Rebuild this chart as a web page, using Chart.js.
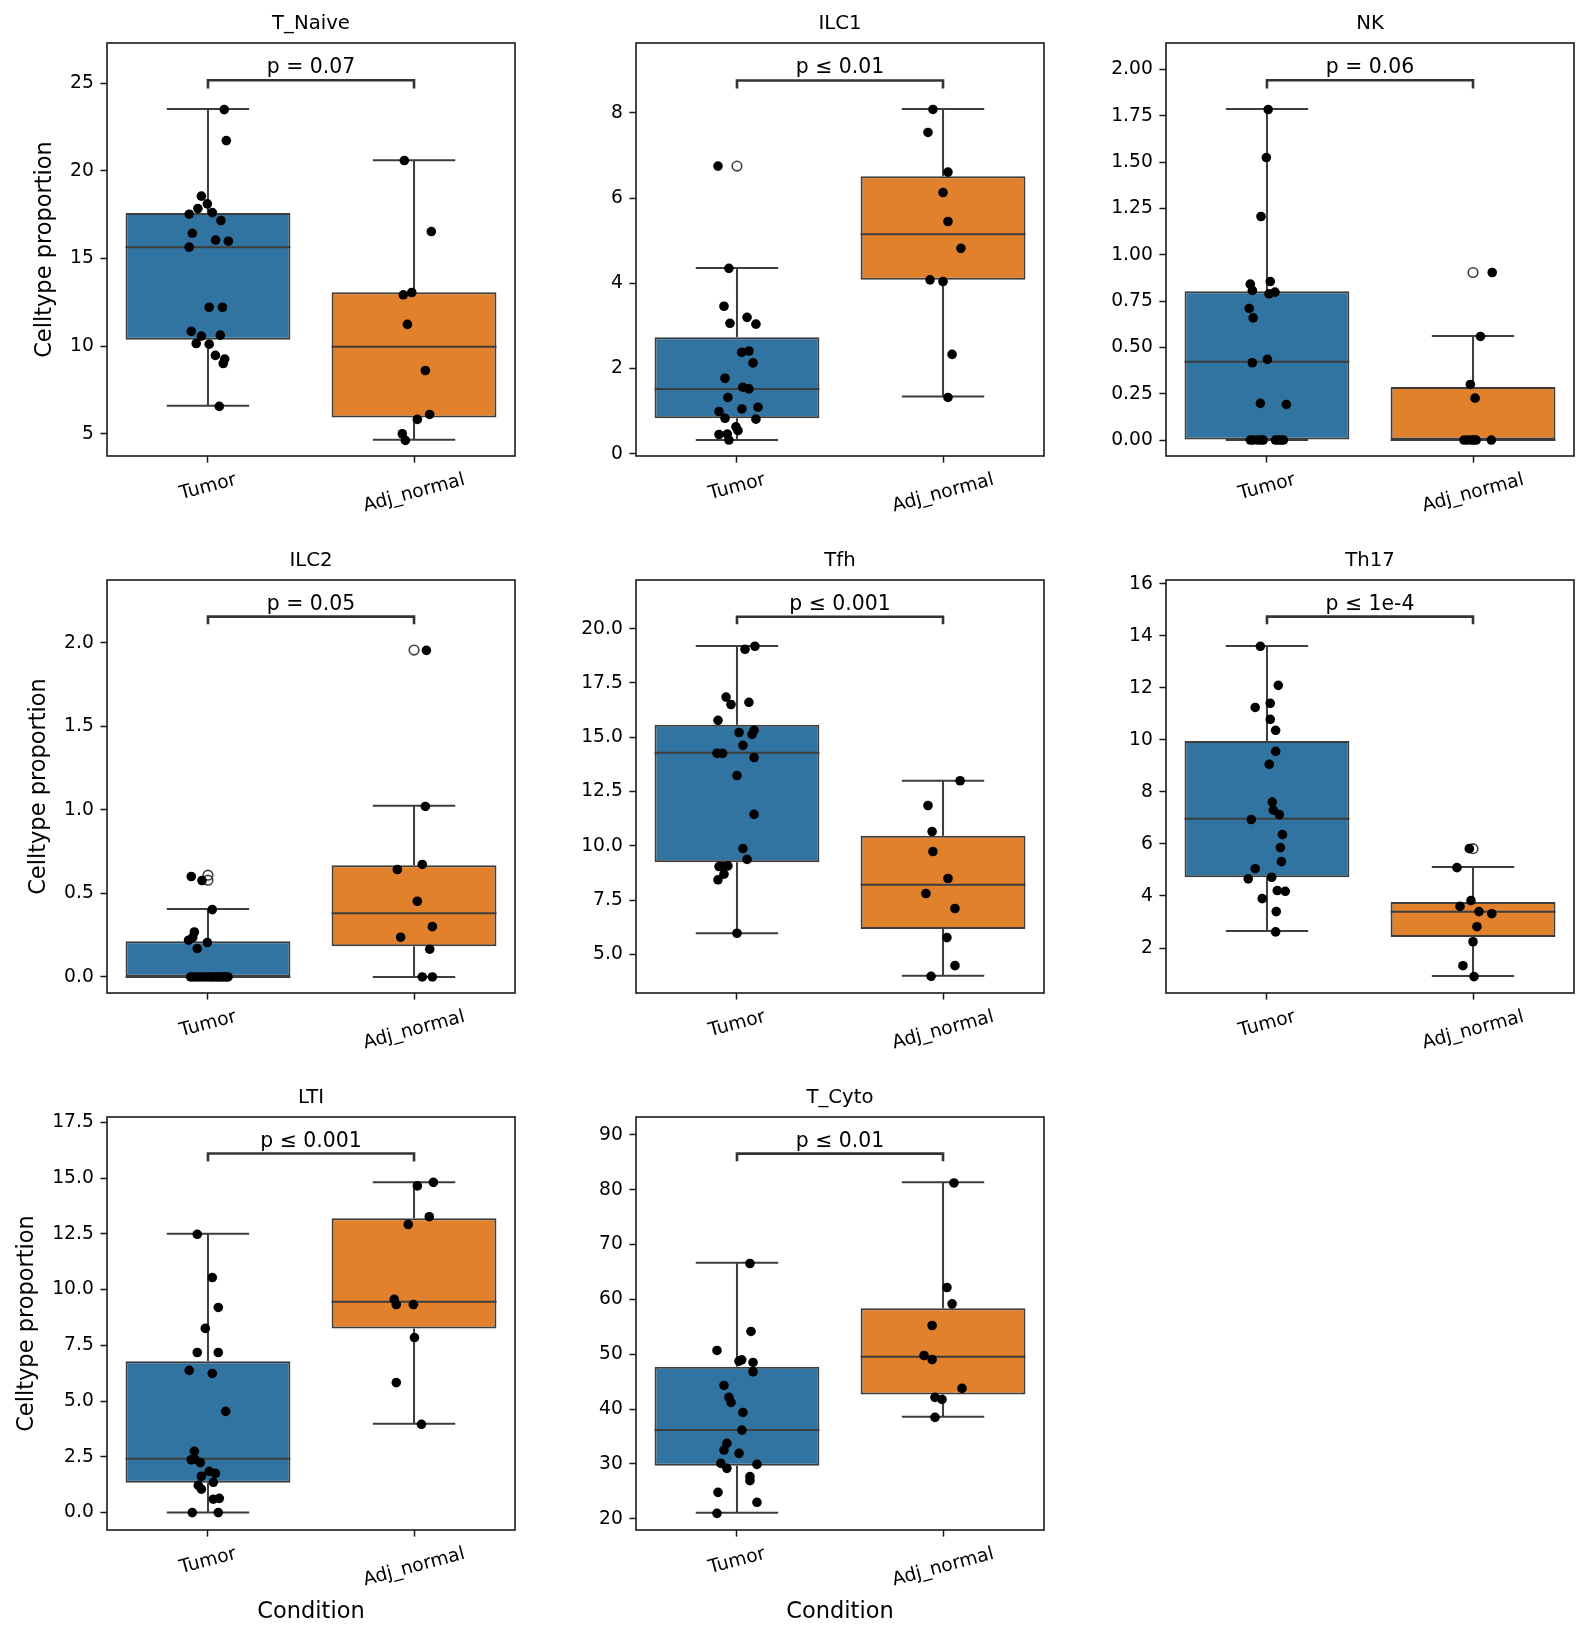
<!DOCTYPE html>
<html>
<head>
<meta charset="utf-8">
<script src="https://cdn.jsdelivr.net/npm/chart.js@4.4.1/dist/chart.umd.min.js"></script>
<style>
  html, body { margin: 0; padding: 0; background: #fff; }
  #page { position: relative; width: 1588px; height: 1641px; overflow: hidden; background: #fff; }
  #page canvas { position: absolute; }
</style>
</head>
<body>
<div id="page"></div>
<script>
// --- DATA ---
const conditions = ['Tumor', 'Adj_normal'];
const panelNames = ['T_Naive', 'ILC1', 'NK', 'ILC2', 'Tfh', 'Th17', 'LTI', 'T_Cyto'];
const pValueLabels = ['p = 0.07', 'p \u2264 0.01', 'p = 0.06', 'p = 0.05', 'p \u2264 0.001', 'p \u2264 1e-4', 'p \u2264 0.001', 'p \u2264 0.01'];

const yMin = [3.73, -0.055, -0.086, -0.096, 3.23, 0.27, -0.78, 17.93];
const yMax = [27.30, 9.64, 2.142, 2.375, 22.24, 16.15, 17.74, 93.28];
const yTickLabels = [
    ['5', '10', '15', '20', '25'],
    ['0', '2', '4', '6', '8'],
    ['0.00', '0.25', '0.50', '0.75', '1.00', '1.25', '1.50', '1.75', '2.00'],
    ['0.0', '0.5', '1.0', '1.5', '2.0'],
    ['5.0', '7.5', '10.0', '12.5', '15.0', '17.5', '20.0'],
    ['2', '4', '6', '8', '10', '12', '14', '16'],
    ['0.0', '2.5', '5.0', '7.5', '10.0', '12.5', '15.0', '17.5'],
    ['20', '30', '40', '50', '60', '70', '80', '90']
];

// box stats: [lower whisker, q1, median, q3, upper whisker]
const tumorBox = [
    [6.60, 10.36, 15.65, 17.60, 23.54],
    [0.32, 0.83, 1.52, 2.73, 4.36],
    [0, 0, 0.422, 0.803, 1.786],
    [0, 0, 0, 0.214, 0.407],
    [5.98, 9.25, 14.29, 15.58, 19.20],
    [2.65, 4.72, 6.97, 9.96, 13.61],
    [0, 1.34, 2.42, 6.79, 12.50],
    [21.09, 29.66, 36.16, 47.71, 66.67]
];
const adjBox = [
    [4.66, 5.93, 9.96, 13.08, 20.61],
    [1.34, 4.08, 5.15, 6.51, 8.09],
    [0, 0, 0, 0.286, 0.561],
    [0, 0.184, 0.381, 0.669, 1.024],
    [4.02, 6.18, 8.21, 10.47, 13.0],
    [0.92, 2.42, 3.39, 3.77, 5.11],
    [3.99, 8.26, 9.45, 13.20, 14.81],
    [38.59, 42.66, 49.53, 58.40, 81.37]
];
const tumorFliers = [[], [6.75], [], [0.609, 0.579], [], [], [], []];
const adjFliers = [[], [], [0.904], [1.956], [], [5.82], [], []];

const bracketTop = [25.17, 8.76, 1.941, 2.156, 20.55, 14.74, 16.10, 86.60];
const bracketTip = [24.70, 8.57, 1.896, 2.110, 20.20, 14.45, 15.75, 85.20];

// strip points: values and horizontal jitter (in category units)
const tNaiveTumor = [23.5, 21.73, 18.56, 18.12, 17.85, 17.53, 17.62, 17.17, 16.44, 16.05, 15.99, 15.65, 12.22, 12.22, 10.84, 10.57, 10.63, 10.15, 10.11, 9.47, 9.26, 9.01, 6.56];
const tNaiveTumorJit = [0.079, 0.089, -0.032, -0.003, -0.049, -0.091, 0.021, 0.063, -0.076, 0.037, 0.099, -0.091, 0.006, 0.070, -0.081, -0.032, 0.060, -0.057, 0.006, 0.036, 0.081, 0.074, 0.055];
const tNaiveAdj = [20.59, 16.54, 12.93, 13.06, 11.24, 8.61, 5.82, 6.10, 5.00, 4.62];
const tNaiveAdjJit = [-0.047, 0.084, -0.052, -0.011, -0.032, 0.055, 0.016, 0.076, -0.057, -0.042];

const ilc1Tumor = [6.75, 4.35, 3.46, 3.20, 3.06, 3.04, 2.38, 2.41, 2.13, 1.77, 1.56, 1.52, 1.32, 0.99, 1.05, 1.09, 0.83, 0.81, 0.63, 0.54, 0.45, 0.46, 0.32];
const ilc1TumorJit = [-0.092, -0.039, -0.063, 0.049, -0.034, 0.092, 0.023, 0.058, 0.078, -0.058, 0.028, 0.058, -0.044, -0.087, 0.024, 0.102, -0.058, 0.092, -0.005, 0.005, -0.087, -0.047, -0.039];
const ilc1Adj = [8.08, 7.54, 6.61, 6.13, 5.45, 4.82, 4.08, 4.04, 2.33, 1.32];
const ilc1AdjJit = [-0.049, -0.073, 0.024, 0, 0.024, 0.087, -0.063, 0, 0.044, 0.024];

const nkTumor = [1.783, 1.524, 1.206, 0.855, 0.841, 0.807, 0.789, 0.798, 0.710, 0.659, 0.435, 0.417, 0.198, 0.192, 0, 0, 0, 0, 0, 0, 0, 0, 0];
const nkTumorJit = [0.006, -0.003, -0.029, 0.016, -0.081, -0.071, 0.010, 0.039, -0.086, -0.067, 0.002, -0.071, -0.032, 0.094, -0.081, -0.067, -0.045, -0.028, -0.018, 0.041, 0.055, 0.068, 0.080];
const nkAdj = [0.904, 0.559, 0.300, 0.226, 0, 0, 0, 0, 0, 0];
const nkAdjJit = [0.093, 0.036, -0.013, 0.010, -0.044, -0.028, -0.008, 0.005, 0.015, 0.089];

const ilc2Tumor = [0.601, 0.577, 0.403, 0.269, 0.220, 0.236, 0.206, 0.170, 0, 0, 0, 0, 0, 0, 0, 0, 0, 0, 0, 0, 0, 0, 0];
const ilc2TumorJit = [-0.081, -0.029, 0.021, -0.066, -0.094, -0.074, -0.003, -0.052, -0.084, -0.070, -0.055, -0.041, -0.028, -0.012, 0.002, 0.015, 0.026, 0.040, 0.050, 0.063, 0.074, 0.088, 0.097];
const ilc2Adj = [1.954, 1.020, 0.673, 0.643, 0.453, 0.301, 0.238, 0.166, 0, 0];
const ilc2AdjJit = [0.060, 0.055, 0.040, -0.081, 0.016, 0.089, -0.065, 0.076, 0.040, 0.089];

const tfhTumor = [19.19, 19.05, 16.85, 16.51, 16.61, 15.78, 15.22, 15.32, 15.13, 14.63, 14.26, 14.26, 14.07, 13.24, 11.45, 9.88, 9.38, 9.05, 9.08, 8.70, 8.44, 5.98, 9.05];
const tfhTumorJit = [0.087, 0.039, -0.053, -0.029, 0.058, -0.092, 0.010, 0.083, 0.073, 0.029, -0.097, -0.070, 0.083, 0, 0.083, 0.029, 0.049, -0.087, -0.044, -0.063, -0.092, 0, -0.071];
const tfhAdj = [13.0, 11.86, 10.66, 9.74, 8.50, 7.81, 7.12, 5.78, 4.49, 4.00];
const tfhAdjJit = [0.083, -0.073, -0.053, -0.049, 0.024, -0.083, 0.058, 0.019, 0.058, -0.058];

const th17Tumor = [13.60, 12.10, 11.25, 11.41, 10.79, 10.37, 9.56, 9.06, 7.61, 7.30, 7.13, 6.94, 6.36, 5.86, 5.32, 5.05, 4.66, 4.72, 4.21, 4.18, 3.90, 3.40, 2.62];
const th17TumorJit = [-0.032, 0.055, -0.057, 0.016, 0.016, 0.042, 0.042, 0.011, 0.026, 0.031, 0.060, -0.076, 0.075, 0.065, 0.070, -0.057, -0.091, 0.023, 0.050, 0.089, -0.023, 0.045, 0.042];
const th17Adj = [5.82, 5.09, 3.82, 3.60, 3.40, 3.32, 2.82, 2.24, 1.32, 0.90];
const th17AdjJit = [-0.018, -0.078, -0.010, -0.063, 0.029, 0.091, 0.019, 0, -0.049, 0.005];

const ltiTumor = [12.48, 10.54, 9.20, 8.26, 7.18, 7.18, 6.38, 6.24, 4.54, 2.75, 2.37, 2.24, 1.85, 1.76, 1.63, 1.36, 1.22, 1.05, 0.60, 0.64, 0, 0, 2.39];
const ltiTumorJit = [-0.052, 0.021, 0.050, -0.013, -0.052, 0.050, -0.091, 0.021, 0.086, -0.066, -0.081, -0.037, 0.006, 0.036, -0.032, 0.026, -0.047, -0.032, 0.026, 0.055, -0.076, 0.050, -0.063];
const ltiAdj = [14.81, 14.65, 13.27, 12.92, 9.56, 9.33, 9.33, 7.85, 5.83, 3.96];
const ltiAdjJit = [0.094, 0.016, 0.074, -0.028, -0.096, -0.086, -0.003, 0.002, -0.086, 0.036];

const tCytoTumor = [66.55, 54.15, 50.69, 48.74, 48.98, 48.50, 46.80, 44.30, 42.12, 41.21, 39.38, 36.16, 33.73, 32.52, 31.91, 30.09, 29.18, 29.90, 27.66, 26.93, 24.80, 22.98, 20.97];
const tCytoTumorJit = [0.063, 0.068, -0.097, 0.010, 0.023, 0.078, 0.078, -0.063, -0.039, -0.029, 0.029, 0.024, -0.049, -0.063, 0.010, -0.078, -0.049, 0.097, 0.063, 0.063, -0.092, 0.097, -0.097];
const tCytoAdj = [81.25, 62.17, 59.19, 55.24, 49.77, 49.04, 43.76, 42.12, 41.75, 38.47];
const tCytoAdjJit = [0.053, 0.019, 0.044, -0.053, -0.092, -0.053, 0.092, -0.039, -0.005, -0.039];

const pointSets = [
    [tNaiveTumor, tNaiveTumorJit, tNaiveAdj, tNaiveAdjJit],
    [ilc1Tumor, ilc1TumorJit, ilc1Adj, ilc1AdjJit],
    [nkTumor, nkTumorJit, nkAdj, nkAdjJit],
    [ilc2Tumor, ilc2TumorJit, ilc2Adj, ilc2AdjJit],
    [tfhTumor, tfhTumorJit, tfhAdj, tfhAdjJit],
    [th17Tumor, th17TumorJit, th17Adj, th17AdjJit],
    [ltiTumor, ltiTumorJit, ltiAdj, ltiAdjJit],
    [tCytoTumor, tCytoTumorJit, tCytoAdj, tCytoAdjJit]
];

// --- LAYOUT / STYLE ---
const FONT = '"DejaVu Sans", sans-serif';
const BOX_COLORS = ['#3274a1', '#e1812c'];
const EDGE = '#3d3d3d';
const FRAME = '#1a1a1a';
const BRACKET = '#333333';
const AX_LEFT = [107, 636, 1166];
const AX_TOP = [43, 580, 1117];
const AX_W = 408, AX_H = 413;
const PAD_L = 7, PAD_T = 45, PAD_R = 15, Y_AXIS_W = 100, X_AXIS_H = 100;
const TICK_LEN = 6.6, TICK_PAD = 6.6;
const TICK_SIZE = 18.7, TITLE_SIZE = 19.7, LABEL_SIZE = 22.5, P_SIZE = 20.4;
const BOX_WIDTH = 0.8;

function panelPlugin(i) {
    const col = i % 3;
    return {
        id: 'panel' + i,
        // whiskers, caps and medians go right after the boxes, under the points
        afterDatasetDraw(chart, args) {
            if (args.index !== 0) return;
            const { ctx } = chart;
            const x = chart.scales.x, y = chart.scales.y;
            ctx.save();
            ctx.strokeStyle = EDGE;
            ctx.lineWidth = 2;
            [tumorBox[i], adjBox[i]].forEach((s, k) => {
                const [lo, q1, med, q3, hi] = s;
                const cx = x.getPixelForValue(k);
                const half = x.getPixelForValue(k + BOX_WIDTH / 2) - cx;
                const capHalf = half / 2;
                ctx.beginPath();
                ctx.moveTo(cx, y.getPixelForValue(q1)); ctx.lineTo(cx, y.getPixelForValue(lo));
                ctx.moveTo(cx, y.getPixelForValue(q3)); ctx.lineTo(cx, y.getPixelForValue(hi));
                ctx.moveTo(cx - capHalf, y.getPixelForValue(lo)); ctx.lineTo(cx + capHalf, y.getPixelForValue(lo));
                ctx.moveTo(cx - capHalf, y.getPixelForValue(hi)); ctx.lineTo(cx + capHalf, y.getPixelForValue(hi));
                ctx.moveTo(cx - half, y.getPixelForValue(med)); ctx.lineTo(cx + half, y.getPixelForValue(med));
                ctx.stroke();
            });
            ctx.restore();
        },
        afterDraw(chart) {
            const { ctx, chartArea: a } = chart;
            const x = chart.scales.x, y = chart.scales.y;
            ctx.save();
            // frame
            ctx.strokeStyle = FRAME;
            ctx.lineWidth = 1.6;
            ctx.strokeRect(a.left, a.top, a.right - a.left, a.bottom - a.top);

            // significance bracket
            const x0 = x.getPixelForValue(0), x1 = x.getPixelForValue(1);
            const yt = y.getPixelForValue(bracketTop[i]), yb = y.getPixelForValue(bracketTip[i]);
            ctx.strokeStyle = BRACKET;
            ctx.lineWidth = 2.6;
            ctx.lineJoin = 'miter';
            ctx.beginPath();
            ctx.moveTo(x0, yb); ctx.lineTo(x0, yt); ctx.lineTo(x1, yt); ctx.lineTo(x1, yb);
            ctx.stroke();
            ctx.fillStyle = '#000';
            ctx.font = P_SIZE + 'px ' + FONT;
            ctx.textAlign = 'center';
            ctx.textBaseline = 'alphabetic';
            ctx.fillText(pValueLabels[i], (x0 + x1) / 2, yt - 7);

            // title
            ctx.font = TITLE_SIZE + 'px ' + FONT;
            ctx.textBaseline = 'middle';
            ctx.fillText(panelNames[i], (a.left + a.right) / 2, a.top - 18.8);

            // rotated category labels, centred on the ticks like matplotlib
            ctx.font = TICK_SIZE + 'px ' + FONT;
            const ang = 15 * Math.PI / 180;
            let maxBox = 0;
            conditions.forEach((c, k) => {
                const w = ctx.measureText(c).width;
                const h = TICK_SIZE * 1.164;
                const bh = w * Math.sin(ang) + h * Math.cos(ang);
                maxBox = Math.max(maxBox, bh);
                ctx.save();
                ctx.translate(x.getPixelForValue(k), a.bottom + TICK_LEN + TICK_PAD + bh / 2);
                ctx.rotate(-ang);
                ctx.textAlign = 'center';
                ctx.textBaseline = 'middle';
                ctx.fillText(c, 0, 0);
                ctx.restore();
            });

            ctx.font = LABEL_SIZE + 'px ' + FONT;
            // x label on the bottom row
            if (i >= 6) {
                ctx.textAlign = 'center';
                ctx.textBaseline = 'middle';
                ctx.fillText('Condition', (a.left + a.right) / 2,
                    a.bottom + TICK_LEN + TICK_PAD + maxBox + 7.5 + LABEL_SIZE * 0.58);
            }
            // y label on the first column
            if (col === 0) {
                ctx.font = TICK_SIZE + 'px ' + FONT;
                const widest = Math.max(...yTickLabels[i].map(t => ctx.measureText(t).width));
                ctx.font = LABEL_SIZE + 'px ' + FONT;
                ctx.save();
                ctx.translate(a.left - widest - 38.5, (a.top + a.bottom) / 2);
                ctx.rotate(-Math.PI / 2);
                ctx.textAlign = 'center';
                ctx.textBaseline = 'middle';
                ctx.fillText('Celltype proportion', 0, 0);
                ctx.restore();
            }
            ctx.restore();
        }
    };
}

function makePanel(i) {
    const col = i % 3, row = Math.floor(i / 3);
    const W = PAD_L + Y_AXIS_W + AX_W + PAD_R;
    const H = PAD_T + AX_H + X_AXIS_H;
    const canvas = document.createElement('canvas');
    canvas.width = W;
    canvas.height = H;
    canvas.style.width = W + 'px';
    canvas.style.height = H + 'px';
    canvas.style.left = (AX_LEFT[col] - PAD_L - Y_AXIS_W) + 'px';
    canvas.style.top = (AX_TOP[row] - PAD_T) + 'px';
    document.getElementById('page').appendChild(canvas);

    const [tY, tJ, aY, aJ] = pointSets[i];
    const tickVals = yTickLabels[i].map(parseFloat);
    const stats = [tumorBox[i], adjBox[i]];

    const gridOpts = {
        drawOnChartArea: false, drawTicks: true, tickLength: TICK_LEN,
        tickColor: FRAME, tickWidth: 1.5, offset: false
    };

    new Chart(canvas, {
        type: 'scatter',
        data: {
            datasets: [
                {
                    type: 'bar', order: 3,
                    data: stats.map((s, k) => ({ x: k, y: [s[1], s[3]] })),
                    backgroundColor: BOX_COLORS, borderColor: EDGE, borderWidth: 2,
                    borderSkipped: false, barPercentage: BOX_WIDTH, categoryPercentage: 1
                },
                {
                    type: 'scatter', order: 2,
                    data: [...tumorFliers[i].map(v => ({ x: 0, y: v })), ...adjFliers[i].map(v => ({ x: 1, y: v }))],
                    pointRadius: 4.8, pointBackgroundColor: 'rgba(0,0,0,0)',
                    pointBorderColor: EDGE, pointBorderWidth: 1.6
                },
                {
                    type: 'scatter', order: 1,
                    data: [...tY.map((v, k) => ({ x: tJ[k], y: v })), ...aY.map((v, k) => ({ x: 1 + aJ[k], y: v }))],
                    pointRadius: 4.8, pointBackgroundColor: '#000', pointBorderWidth: 0
                }
            ]
        },
        options: {
            responsive: false,
            animation: false,
            events: [],
            layout: { padding: { left: PAD_L, top: PAD_T, right: PAD_R, bottom: 0 } },
            plugins: { legend: { display: false }, tooltip: { enabled: false }, title: { display: false } },
            scales: {
                x: {
                    type: 'linear', min: -0.49, max: 1.49, offset: false,
                    afterBuildTicks: s => { s.ticks = conditions.map((c, k) => ({ value: k })); },
                    afterFit: s => { s.height = X_AXIS_H; },
                    ticks: { display: false },
                    grid: gridOpts,
                    border: { display: false }
                },
                y: {
                    type: 'linear', min: yMin[i], max: yMax[i],
                    afterBuildTicks: s => { s.ticks = tickVals.map(v => ({ value: v })); },
                    afterFit: s => { s.width = Y_AXIS_W; },
                    ticks: {
                        autoSkip: false, padding: TICK_PAD, color: '#000',
                        font: { family: FONT, size: TICK_SIZE },
                        callback: (v, idx) => yTickLabels[i][idx]
                    },
                    grid: gridOpts,
                    border: { display: false }
                }
            }
        },
        plugins: [panelPlugin(i)]
    });
}

panelNames.forEach((n, i) => makePanel(i));
</script>
</body>
</html>
